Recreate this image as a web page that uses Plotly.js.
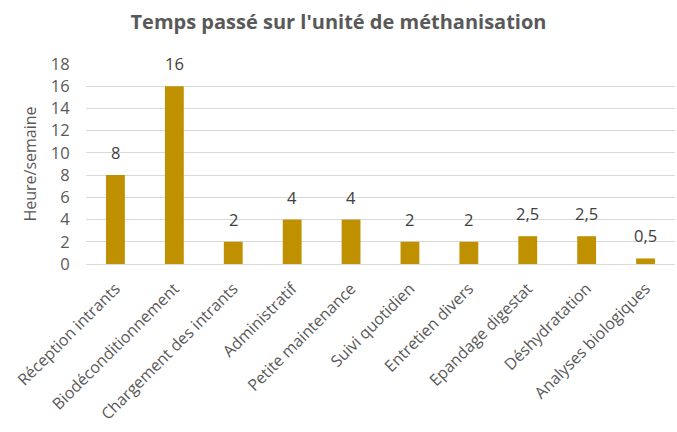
<!DOCTYPE html>
<html><head><meta charset="utf-8">
<script src="https://cdn.plot.ly/plotly-3.0.1.min.js"></script>
<style>html,body{margin:0;padding:0;background:#fff}#chart{width:677px;height:432px}</style>
</head><body><div id="chart"></div>
<script>
const categories = ["Réception intrants","Biodéconditionnement","Chargement des intrants","Administratif","Petite maintenance","Suivi quotidien","Entretien divers","Epandage digestat","Déshydratation","Analyses biologiques"];
const hours = [8,16,2,4,4,2,2,2.5,2.5,0.5];
const labels = ["8","16","2","4","4","2","2","2,5","2,5","0,5"];
const yTicks = [0,2,4,6,8,10,12,14,16,18];

const annotations = categories.map((c,i)=>({
  x:c, y:hours[i], xref:'x', yref:'y', text:labels[i], showarrow:false,
  yanchor:'bottom', yshift:9,
  font:{family:'Open Sans, sans-serif', size:16.5, color:'#404040'}
}));

Plotly.newPlot('chart',[{
  type:'bar', x:categories, y:hours,
  marker:{color:'#BF9000'}, hoverinfo:'none'
}],{
  width:677, height:432,
  margin:{l:86,r:2,t:64,b:168},
  paper_bgcolor:'#fff', plot_bgcolor:'#fff',
  bargap:0.68,
  annotations:annotations,
  title:{text:"<b>Temps passé sur l'unité de méthanisation</b>", x:0.5, xanchor:'center', y:0.948, yanchor:'middle',
    font:{family:'Open Sans, sans-serif', size:20, color:'#595959'}},
  font:{family:'Open Sans, sans-serif', color:'#595959'},
  xaxis:{tickangle:-45, tickfont:{size:16, color:'#595959'}, showline:true, linecolor:'#D9D9D9', linewidth:1,
    ticks:'outside', ticklen:8, tickcolor:'rgba(0,0,0,0)', automargin:false},
  yaxis:{range:[0,18], tickvals:yTicks, ticktext:yTicks.map(String), tickfont:{size:16.5, color:'#595959'},
    gridcolor:'#D9D9D9', gridwidth:1, zeroline:false, showline:false,
    ticks:'outside', ticklen:12, tickcolor:'rgba(0,0,0,0)', automargin:false,
    title:{text:'Heure/semaine', font:{size:16, color:'#595959'}, standoff:10}},
  showlegend:false
},{displayModeBar:false, staticPlot:true});
</script></body></html>
